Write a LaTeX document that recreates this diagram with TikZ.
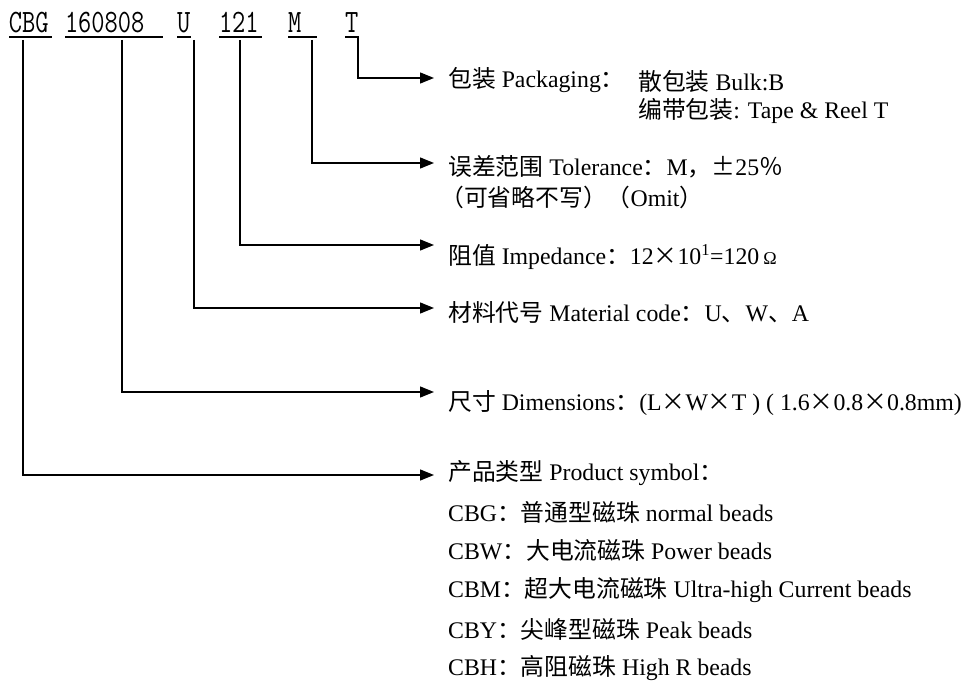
\documentclass[tikz,border=0pt]{standalone}
\usepackage{fontspec}
\setmainfont{Liberation Serif}
\newfontfamily\cjk{Noto Sans CJK SC}
\newcommand{\zh}[1]{{\cjk #1}}
\usetikzlibrary{arrows.meta, positioning}

\begin{document}
\begin{tikzpicture}[
    x=1pt, y=1pt,
    font=\fontsize{23.8}{28}\selectfont,
    % part of the order code (underlined)
    codepart/.style={inner xsep=0pt, inner ysep=0pt, outer sep=0pt, anchor=base west, align=left, font=\fontsize{25.7}{30}\fontfamily{lmtt}\selectfont},
    uline/.style={line width=1.4pt},
    desc/.style={anchor=west, inner xsep=14pt, inner ysep=0pt},
    arr/.style={-{Triangle[length=14pt, width=11pt]}, line width=1.3pt}
]
\useasboundingbox (0,0) rectangle (966,-684);

% ================= ORDER CODE =================
\node[codepart, text width=43pt] (cbg) at (9,-33) {\scalebox{1}[1.27]{CBG}};
\node[codepart, text width=98pt] (size) at (65,-33) {\scalebox{1}[1.27]{160808}};
\node[codepart, text width=14pt] (matl) at (177,-33) {\scalebox{1}[1.27]{U}};
\node[codepart, text width=43pt] (imp) at (219,-33) {\scalebox{1}[1.27]{121}};
\node[codepart, text width=29pt] (tol) at (288,-33) {\scalebox{1}[1.27]{M}};
\node[codepart, text width=14pt] (pack) at (345,-33) {\scalebox{1}[1.27]{T}};

\foreach \n in {cbg, size, matl, imp, tol, pack}
  \draw[uline] ([yshift=-4]\n.base west) -- ([yshift=-4]\n.base east);

% ================= DESCRIPTIONS =================
\node[desc] (packtxt) at (434,-80) {\zh{包装} Packaging\zh{：}};
\node[desc] (bulk) at (624,-81) {\zh{散包装} Bulk:B};
\node[desc] (reel) at (624,-111) {\zh{编带包装}: Tape \& Reel T};

\node[desc] (toltxt) at (434,-167) {\zh{误差范围} Tolerance\zh{：}M\zh{，±}25\zh{％}};
\node[desc] (omit) at (426,-197) {\zh{（可省略不写）（}Omit\zh{）}};

\node[desc] (imptxt) at (434,-257) {\zh{阻值} Impedance\zh{：}12\zh{×}10\textsuperscript{1}=120\,{\fontsize{18}{20}\selectfont Ω}};

\node[desc] (mattxt) at (434,-312) {\zh{材料代号} Material code\zh{：}U\zh{、}W\zh{、}A};

\node[desc] (dimtxt) at (434,-403) {\zh{尺寸} Dimensions\zh{：}(L\zh{×}W\zh{×}T ) ( 1.6\zh{×}0.8\zh{×}0.8mm)};

\node[desc] (prodtxt) at (434,-473) {\zh{产品类型} Product symbol\zh{：}};
\node[desc] (cbgtxt) at (434,-512) {CBG\zh{：普通型磁珠} normal beads};
\node[desc] (cbwtxt) at (434,-550) {CBW\zh{：大电流磁珠} Power beads};
\node[desc] (cbmtxt) at (434,-590) {CBM\zh{：超大电流磁珠} Ultra-high Current beads};
\node[desc] (cbytxt) at (434,-629) {CBY\zh{：尖峰型磁珠} Peak beads};
\node[desc] (cbhtxt) at (434,-668) {CBH\zh{：高阻磁珠} High R beads};

% ================= CONNECTORS =================
\draw[arr] ([shift={(13,-4)}]pack.base west) |- ([yshift=2]packtxt.west);
\draw[arr] ([shift={(24,-7)}]tol.base west) |- ([yshift=4]toltxt.west);
\draw[arr] ([shift={(21,-7)}]imp.base west) |- ([yshift=12]imptxt.west);
\draw[arr] ([shift={(17,-7)}]matl.base west) |- ([yshift=4]mattxt.west);
\draw[arr] ([shift={(57,-7)}]size.base west) |- ([yshift=11]dimtxt.west);
\draw[arr] ([shift={(14,-7)}]cbg.base west) |- ([yshift=-2]prodtxt.west);

\end{tikzpicture}
\end{document}
